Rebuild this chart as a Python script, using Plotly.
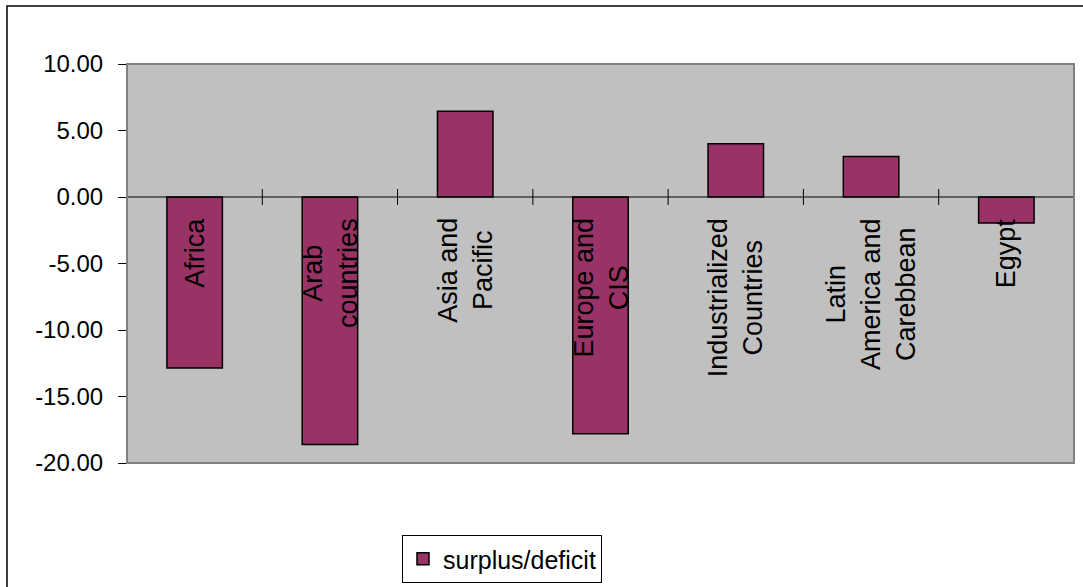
import plotly.graph_objects as go

categories = ["Africa", "Arab countries", "Asia and Pacific", "Europe and CIS",
              "Industrialized Countries", "Latin America and Carebbean", "Egypt"]
label_text = ["Africa", "Arab<br>countries", "Asia and<br>Pacific", "Europe and<br>CIS",
              "Industrialized<br>Countries", "Latin<br>America and<br>Carebbean", "Egypt"]
values = [-12.85, -18.6, 6.45, -17.8, 4.0, 3.05, -1.95]
series_name = "surplus/deficit"
y_ticks = [10, 5, 0, -5, -10, -15, -20]
y_tick_labels = [f"{v:.2f}" for v in y_ticks]

W, H = 1083, 587
L, R, T, B = 127, 9, 64, 124
pw, ph = W - L - R, H - T - B

FONT = "Arial, Liberation Sans, sans-serif"

fig = go.Figure()
fig.add_trace(go.Bar(
    x=categories, y=values, name=series_name,
    marker=dict(color="#993366", line=dict(color="black", width=1.5)),
    showlegend=True,
))

# category labels (rotated) just below the zero line
for cat, txt in zip(categories, label_text):
    fig.add_annotation(x=cat, y=0, xref="x", yref="y", text=txt, textangle=-90,
                       showarrow=False, xanchor="center", yanchor="top", yshift=-19,
                       align="center", font=dict(family=FONT, size=27, color="black"))

# cross ticks on the zero line at category boundaries
ymin, ymax = min(y_ticks), max(y_ticks)
upp = (ymax - ymin) / ph
for i in range(len(categories) + 1):
    fig.add_shape(type="line", xref="x", yref="y", x0=i - 0.5, x1=i - 0.5,
                  y0=-8 * upp, y1=8 * upp, line=dict(color="black", width=1))
# zero line
fig.add_shape(type="line", xref="paper", yref="y", x0=0, x1=1, y0=0, y1=0,
              line=dict(color="black", width=1))
# plot area border
fig.add_shape(type="rect", xref="paper", yref="paper", x0=0, x1=1, y0=0, y1=1,
              line=dict(color="#808080", width=2), layer="above")
# outer chart frame
fig.add_shape(type="rect", xref="paper", yref="paper",
              x0=(7 - L) / pw, x1=(W + 5 - L) / pw,
              y0=-(H + 5 - T - ph) / ph, y1=1 + (T - 6) / ph,
              line=dict(color="black", width=1.5))

fig.update_layout(
    width=W, height=H,
    margin=dict(l=L, r=R, t=T, b=B, pad=0, autoexpand=False),
    paper_bgcolor="white", plot_bgcolor="#C0C0C0",
    bargap=0.59,
    font=dict(family=FONT, size=24, color="black"),
    showlegend=True,
    legend=dict(xref="container", yref="container",
                x=402 / W, y=1 - 535 / H, xanchor="left", yanchor="top",
                bgcolor="white", bordercolor="black", borderwidth=1,
                font=dict(family=FONT, size=25, color="black"),
                itemwidth=30, tracegroupgap=0),
    xaxis=dict(type="category", categoryarray=categories, range=[-0.5, len(categories) - 0.5],
               showticklabels=False, ticks="", showgrid=False, zeroline=False, showline=False),
    yaxis=dict(range=[ymin, ymax], tickvals=y_ticks, ticktext=y_tick_labels,
               ticks="outside", ticklen=8, tickcolor="black", tickwidth=1,
               showline=True, linecolor="black", linewidth=1,
               showgrid=False, zeroline=False, ticklabelstandoff=10,
               tickfont=dict(family=FONT, size=24, color="black")),
)

fig.write_html("out.html")
